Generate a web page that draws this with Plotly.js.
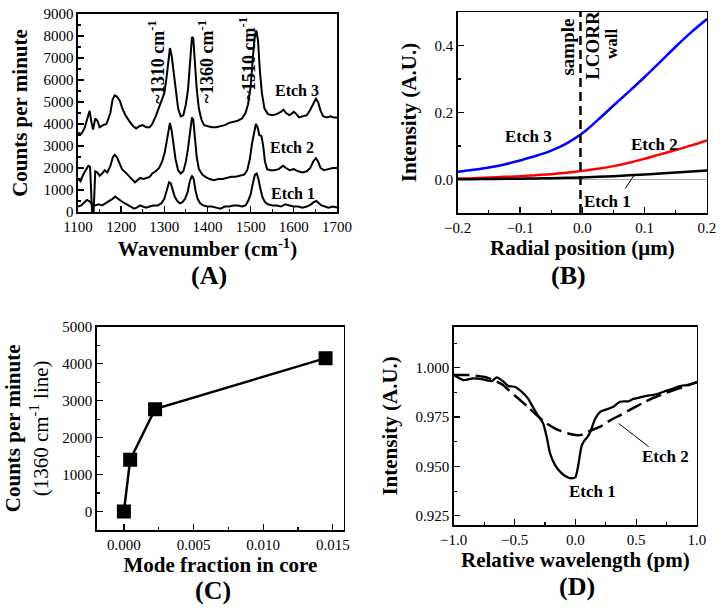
<!DOCTYPE html>
<html><head><meta charset="utf-8">
<script src="https://cdn.plot.ly/plotly-3.0.1.min.js"></script>
<style>html,body{margin:0;padding:0;background:#fff}#chart{width:724px;height:616px}</style>
</head><body><div id="chart"></div>
<script>
// ---------- Panel A : Raman spectra ----------
const wnEtch3 = [1100,1108,1115,1122,1127,1131,1135,1140,1145,1150,1158,1166,1175,1180,1185,1190,1197,1203,1210,1220,1228,1235,1242,1250,1258,1266,1272,1280,1288,1295,1300,1305,1310,1313,1317,1321,1326,1332,1338,1344,1350,1355,1360,1364,1367,1371,1375,1380,1386,1392,1400,1410,1420,1430,1440,1450,1460,1470,1480,1488,1494,1500,1505,1509,1513,1517,1521,1526,1532,1540,1550,1560,1570,1576,1582,1590,1600,1606,1612,1620,1630,1638,1645,1651,1656,1662,1668,1676,1685,1692,1700];
const cntEtch3 = [3600,3550,3800,4300,4600,4100,3750,4250,4150,3850,3950,4000,4500,5100,5300,5250,5050,4700,4400,4100,3900,3800,3900,3950,3850,3850,4000,4350,4800,5100,5400,6100,7100,7450,7100,6400,5500,4700,4350,4400,4900,5600,6900,7950,7900,6800,5600,4700,4200,3950,3900,3850,3850,3900,3950,4050,4100,4150,4250,4500,4900,5700,7000,7900,8250,7800,6500,5400,4700,4450,4400,4450,4550,4650,4500,4400,4550,4450,4300,4350,4400,4650,4950,5150,5000,4600,4350,4300,4350,4300,4300];
const wnEtch2 = [1100,1106,1112,1118,1124,1128,1131,1133,1136,1138,1140,1145,1150,1156,1162,1168,1175,1181,1185,1190,1196,1202,1210,1218,1226,1232,1238,1244,1252,1260,1266,1272,1280,1288,1295,1301,1306,1310,1313,1317,1321,1326,1332,1338,1344,1350,1355,1360,1364,1367,1371,1375,1380,1388,1395,1405,1415,1425,1435,1445,1455,1465,1475,1485,1492,1498,1503,1508,1512,1516,1520,1525,1529,1533,1538,1545,1555,1565,1575,1582,1590,1600,1610,1620,1630,1638,1645,1651,1656,1662,1670,1680,1690,1700];
const cntEtch2 = [1500,1400,1700,1900,2100,2050,800,-150,-150,900,1850,1800,1650,1750,1900,1800,2100,2500,2600,2500,2200,1950,1800,1650,1500,1350,1450,1550,1500,1550,1600,1750,1850,2000,2300,2700,3300,3900,4050,3700,3100,2400,1900,1750,1850,2300,2900,3700,4300,4200,3300,2500,1950,1700,1600,1500,1450,1500,1500,1550,1600,1600,1650,1700,1900,2400,3100,3700,4000,3850,3500,3450,3000,2300,1950,1900,1900,1950,2100,2000,1900,1950,1850,1800,1850,2000,2300,2450,2300,2000,1900,1950,2000,2000];
const wnEtch1 = [1100,1108,1115,1121,1126,1130,1133,1140,1148,1156,1165,1172,1180,1186,1192,1200,1208,1216,1224,1230,1236,1244,1250,1258,1266,1275,1285,1293,1300,1306,1311,1315,1319,1324,1330,1336,1342,1348,1354,1359,1364,1368,1372,1377,1383,1390,1400,1410,1420,1430,1440,1450,1460,1470,1480,1488,1494,1500,1505,1510,1514,1518,1522,1527,1533,1540,1550,1560,1570,1580,1590,1600,1610,1620,1630,1640,1646,1652,1658,1664,1672,1680,1690,1700];
const cntEtch1 = [250,300,450,550,500,400,350,300,350,300,400,500,600,700,600,500,400,300,200,150,200,300,250,200,250,300,300,400,600,1000,1350,1300,1000,700,500,400,450,600,900,1400,1650,1500,1000,600,400,300,250,250,200,150,250,250,300,300,250,300,500,800,1300,1700,1750,1500,1100,700,450,350,300,300,250,350,300,250,250,200,250,350,450,500,400,300,250,200,250,200];
const peakLabels = ["~1310 cm<sup>-1</sup>","~1360 cm<sup>-1</sup>","~1510 cm<sup>-1</sup>"];
const peakLabelX = [1283,1398,1492];
const peakLabelY = [6830,6830,6950];
const etchLabelsA = ["Etch 3","Etch 2","Etch 1"];
const etchLabelAX = [1607,1596,1598];
const etchLabelAY = [5540,2950,850];

// ---------- Panel B : field profile ----------
const radial = [-0.2,-0.175,-0.15,-0.125,-0.1,-0.075,-0.05,-0.025,0,0.025,0.05,0.075,0.1,0.125,0.15,0.175,0.2];
const intEtch3 = [0.023,0.029,0.036,0.045,0.057,0.070,0.086,0.108,0.138,0.178,0.221,0.263,0.306,0.351,0.397,0.440,0.479];
const intEtch2 = [0.003,0.004,0.006,0.008,0.010,0.013,0.016,0.020,0.026,0.032,0.040,0.050,0.062,0.075,0.088,0.102,0.117];
const intEtch1 = [0.0005,0.001,0.0015,0.002,0.0025,0.003,0.004,0.005,0.006,0.008,0.010,0.0125,0.015,0.018,0.021,0.024,0.027];
const interfaceX = -0.003;

// ---------- Panel C ----------
const modeFraction = [0.0, 0.00045, 0.00224, 0.01448];
const counts1360 = [0, 1400, 2770, 4150];

// ---------- Panel D : resonance dips ----------
const relWlEtch1 = [-1.0,-0.92,-0.84,-0.76,-0.69,-0.647,-0.59,-0.55,-0.5,-0.44,-0.39,-0.35,-0.31,-0.265,-0.236,-0.208,-0.167,-0.112,-0.06,-0.03,0.0,0.022,0.05,0.068,0.1,0.123,0.164,0.205,0.258,0.312,0.367,0.436,0.477,0.532,0.586,0.641,0.696,0.751,0.805,0.86,0.915,0.96,1.0];
const dipEtch1 = [0.9963,0.9938,0.9946,0.9941,0.9932,0.9951,0.9929,0.9907,0.9904,0.9878,0.9845,0.9802,0.9760,0.9718,0.9650,0.9566,0.9507,0.9465,0.9444,0.9440,0.9445,0.9500,0.9600,0.9625,0.9650,0.9676,0.9743,0.9777,0.9789,0.9802,0.9828,0.9830,0.9842,0.9850,0.9858,0.9862,0.9872,0.9884,0.9895,0.9907,0.9912,0.9918,0.9926];
const relWlEtch2 = [-1.0,-0.88,-0.73,-0.6,-0.55,-0.5,-0.386,-0.318,-0.236,-0.153,-0.058,0.0,0.05,0.134,0.2,0.29,0.37,0.455,0.55,0.633,0.7,0.77,0.84,0.907,1.0];
const dipEtch2 = [0.9963,0.9963,0.9951,0.9915,0.9887,0.9861,0.9799,0.9760,0.9718,0.9688,0.9667,0.9659,0.9660,0.9684,0.9700,0.9735,0.9760,0.9789,0.9820,0.9845,0.9862,0.9878,0.9893,0.9907,0.9928];

const FONT = "Liberation Serif";
const tickFont = {family: FONT, size: 15, color: "#000"};
const titleFont = {family: FONT, size: 21, color: "#000", weight: "bold"};

function minorOf(d){ return {ticks:"inside",ticklen:3.5,tickwidth:1.1,tickcolor:"#000",dtick:d,showgrid:false}; }
function ax(extra){
  return Object.assign({
    showline: true, linecolor: "#000", linewidth: 1.5, mirror: true,
    ticks: "inside", ticklen: 6, tickwidth: 1.3, tickcolor: "#000",
    showgrid: false, zeroline: false, tickfont: tickFont
  }, extra);
}
function note(xr, yr, x, y, text, size, angle){
  return {xref:xr, yref:yr, x:x, y:y, text:text, showarrow:false, textangle:angle||0,
          xanchor:"center", yanchor:"middle", font:{family:FONT, size:size, color:"#000"}};
}

const traces = [
  {x: wnEtch3, y: cntEtch3, xaxis: "x", yaxis: "y", mode: "lines", line: {color: "#000", width: 2}},
  {x: wnEtch2, y: cntEtch2, xaxis: "x", yaxis: "y", mode: "lines", line: {color: "#000", width: 2}},
  {x: wnEtch1, y: cntEtch1, xaxis: "x", yaxis: "y", mode: "lines", line: {color: "#000", width: 2}},
  {x: radial, y: intEtch3, xaxis: "x2", yaxis: "y2", mode: "lines", line: {color: "#0000ff", width: 2.5, shape: "spline"}},
  {x: radial, y: intEtch2, xaxis: "x2", yaxis: "y2", mode: "lines", line: {color: "#ff0000", width: 2.5, shape: "spline"}},
  {x: radial, y: intEtch1, xaxis: "x2", yaxis: "y2", mode: "lines", line: {color: "#000", width: 2.5, shape: "spline"}},
  {x: modeFraction, y: counts1360, xaxis: "x3", yaxis: "y3", mode: "lines+markers",
   line: {color: "#000", width: 2.5}, marker: {symbol: "square", size: 14, color: "#000"}},
  {x: relWlEtch1, y: dipEtch1, xaxis: "x4", yaxis: "y4", mode: "lines", line: {color: "#000", width: 2.3, shape: "spline", smoothing: 0.6}},
  {x: relWlEtch2, y: dipEtch2, xaxis: "x4", yaxis: "y4", mode: "lines", line: {color: "#000", width: 2.5, dash: "16px,6px", shape: "spline", smoothing: 0.6}}
];

const annotations = [];
peakLabels.forEach((t,i)=>annotations.push(note("x","y",peakLabelX[i],peakLabelY[i],"<b>"+t+"</b>",18,-90)));
etchLabelsA.forEach((t,i)=>annotations.push(note("x","y",etchLabelAX[i],etchLabelAY[i],"<b>"+t+"</b>",16)));
annotations.push(
  note("x2","y2",-0.087,0.127,"<b>Etch 3</b>",17),
  note("x2","y2",0.115,0.105,"<b>Etch 2</b>",17),
  note("x2","y2",0.04,-0.067,"<b>Etch 1</b>",17),
  note("x2","y2",-0.024,0.395,"<b>sample</b>",19,-90),
  note("x2","y2",0.016,0.40,"<b>LCORR</b>",19,-90),
  note("x2","y2",0.048,0.405,"<b>wall</b>",17,-90),
  note("x4","y4",0.137,0.9372,"<b>Etch 1</b>",17),
  note("x4","y4",0.739,0.9549,"<b>Etch 2</b>",17),
  note("paper","paper",0.2887,0.5535,"<b>(A)</b>",26),
  note("paper","paper",0.7855,0.5535,"<b>(B)</b>",26),
  note("paper","paper",0.2942,0.0422,"<b>(C)</b>",26),
  note("paper","paper",0.797,0.0475,"<b>(D)</b>",26)
);

const shapes = [
  {type:"line",xref:"x2",yref:"y2 domain",x0:interfaceX,x1:interfaceX,y0:0,y1:1,line:{color:"#000",width:2.5,dash:"9px,5px"}},
  {type:"line",xref:"x2",yref:"y2",x0:0.069,y0:-0.027,x1:0.084,y1:0.016,line:{color:"#000",width:1}},
  {type:"line",xref:"x4",yref:"y4",x0:0.356,y0:0.9718,x1:0.603,y1:0.9600,line:{color:"#000",width:1}}
];

const layout = {
  width: 724, height: 616, margin: {l:0,r:0,t:0,b:0},
  paper_bgcolor: "#fff", plot_bgcolor: "#fff", showlegend: false,
  font: {family: FONT, color: "#000"},
  xaxis: ax({domain:[0.1077,0.4655], anchor:"y", range:[1100,1700], dtick:100, tick0:1100, minor:minorOf(50),
    title:{text:"<b>Wavenumber (cm<sup>-1</sup>)</b>", font:titleFont, standoff:4}}),
  yaxis: ax({domain:[0.6558,0.9773], anchor:"x", range:[0,9000], dtick:1000, minor:minorOf(500),
    title:{text:"<b>Counts per minute</b>", font:titleFont, standoff:10}}),
  xaxis2: ax({domain:[0.6322,0.9765], anchor:"y2", range:[-0.2,0.2], dtick:0.1, tick0:-0.2, tickformat:".1f", minor:minorOf(0.05),
    title:{text:"<b>Radial position (\u03bcm)</b>", font:titleFont, standoff:4}}),
  yaxis2: ax({domain:[0.6542,0.9805], anchor:"x2", range:[-0.1,0.5], dtick:0.2, tick0:0, tickformat:".1f",
    zeroline:true, zerolinecolor:"#aaaaaa", zerolinewidth:1.5, minor:minorOf(0.1),
    title:{text:"<b>Intensity (A.U.)</b>", font:titleFont, standoff:12}}),
  xaxis3: ax({domain:[0.1336,0.4751], anchor:"y3", range:[-0.00195,0.0158], dtick:0.005, tick0:0, tickformat:".3f", minor:minorOf(0.0025),
    title:{text:"<b>Mode fraction in core</b>", font:titleFont, standoff:0}}),
  yaxis3: ax({domain:[0.1396,0.4696], anchor:"x3", range:[-500,5000], dtick:1000, tick0:0, minor:minorOf(500),
    title:{text:"<b>Counts per minute</b><br><span style='font-weight:normal'>(1360 cm<sup>-1</sup> line)</span>", font:Object.assign({},titleFont,{weight:"normal"}), standoff:8}}),
  xaxis4: ax({domain:[0.6267,0.9627], anchor:"y4", range:[-1,1], dtick:0.5, tick0:-1, tickformat:".1f", minor:minorOf(0.25),
    title:{text:"<b>Relative wavelength (pm)</b>", font:titleFont, standoff:0}}),
  yaxis4: ax({domain:[0.1477,0.4696], anchor:"x4", range:[0.9203,1.0208], dtick:0.025, tick0:0.925, tickformat:".3f", minor:minorOf(0.0125),
    title:{text:"<b>Intensity (A.U.)</b>", font:titleFont, standoff:12}}),
  annotations: annotations, shapes: shapes
};

Plotly.newPlot("chart", traces, layout, {displayModeBar:false, staticPlot:true});
</script></body></html>
